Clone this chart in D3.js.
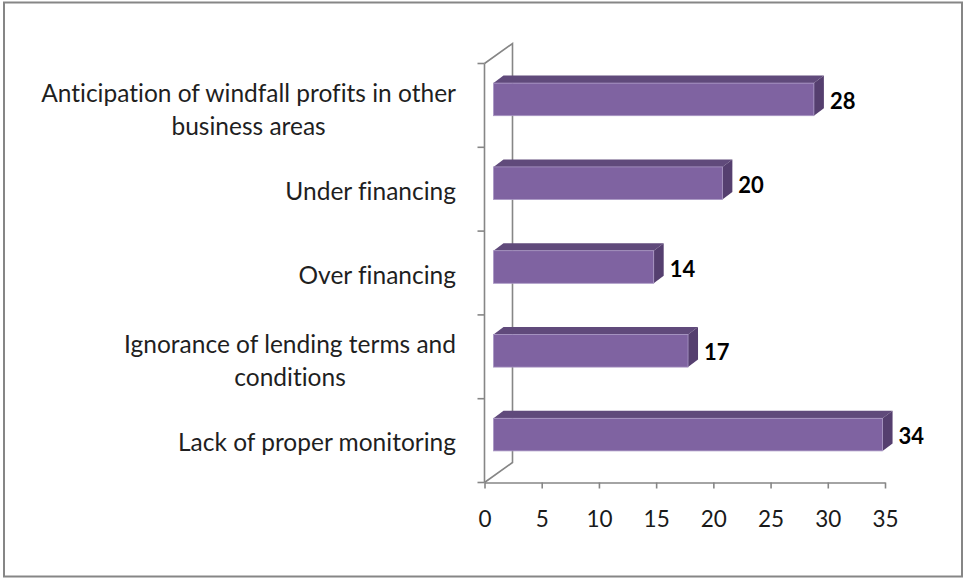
<!DOCTYPE html>
<html>
<head>
<meta charset="utf-8">
<script src="https://cdn.jsdelivr.net/npm/d3@7"></script>
<style>
  html, body { margin: 0; padding: 0; background: #ffffff; }
  svg { display: block; }
  text { font-variant-ligatures: none; font-feature-settings: "liga" 0; }
</style>
</head>
<body>
<svg id="chart" width="965" height="579"></svg>
<script>
// ---- data ----
const categories = [
  "Anticipation of windfall profits in other\nbusiness areas",
  "Under financing",
  "Over financing",
  "Ignorance of lending terms and\nconditions",
  "Lack of proper monitoring"
];
const values = [28, 20, 14, 17, 34];
const xTicks = [0, 5, 10, 15, 20, 25, 30, 35];

// ---- layout / style ----
const W = 965, H = 579;
const axisColor = "#868686";
const frontColor = "#7F63A1", topColor = "#604A7B", sideColor = "#553F6F", edgeColor = "#A996C4";
const depth = {dx: 28, dy: -20};          // full 3D depth of the plot
const barOff = {dx: 9, dy: -6};           // bar front offset from front plane
const barDepth = {dx: 10, dy: -7.5};      // bar thickness in depth
const barH = 32.6;

const svg = d3.select("#chart");

// outer border
svg.append("rect").attr("x", 4).attr("y", 2.5).attr("width", 958).attr("height", 574)
  .attr("fill", "#fff").attr("stroke", axisColor).attr("stroke-width", 2);

const x = d3.scaleLinear().domain([0, 35]).range([484.5, 885]);
const y = d3.scaleBand().domain(categories).range([63.5, 482.5]).paddingInner(0).paddingOuter(0);

const x0 = x(0), yTop = y.range()[0], yBot = y.range()[1];

// 3D walls (left wall outline)
const g = svg.append("g");
g.append("path")
  .attr("d", `M${x0},${yTop} L${x0 + depth.dx},${yTop + depth.dy} L${x0 + depth.dx},${yBot + depth.dy} L${x0},${yBot}`)
  .attr("fill", "none").attr("stroke", axisColor).attr("stroke-width", 1.6);

// front category axis line
g.append("line").attr("x1", x0).attr("x2", x0).attr("y1", yTop).attr("y2", yBot)
  .attr("stroke", axisColor).attr("stroke-width", 1.6);

// category ticks at band boundaries
const bounds = categories.map(c => y(c)).concat([yBot]);
g.selectAll("line.ctick").data(bounds).join("line")
  .attr("class", "ctick")
  .attr("x1", x0 - 7).attr("x2", x0).attr("y1", d => d).attr("y2", d => d)
  .attr("stroke", axisColor).attr("stroke-width", 1.6);

// x axis
const xAxis = d3.axisBottom(x).tickValues(xTicks).tickSize(6).tickSizeOuter(0).tickPadding(23)
  .tickFormat(d3.format("d"));
const xg = svg.append("g").attr("transform", `translate(0,${yBot})`).call(xAxis);
xg.select(".domain").attr("stroke", axisColor).attr("stroke-width", 1.6);
xg.selectAll(".tick line").attr("stroke", axisColor).attr("stroke-width", 1.6);
xg.selectAll(".tick text")
  .attr("font-family", "Lato, 'Open Sans', sans-serif")
  .attr("font-size", 22.5).attr("fill", "#1a1a1a");

// bars
const bars = svg.append("g");
categories.forEach((c, i) => {
  const v = values[i];
  const cy = y(c) + y.bandwidth() / 2 + barOff.dy;
  const fx0 = x(0) + barOff.dx, fx1 = x(v) + barOff.dx;
  const ft = cy - barH / 2, fb = cy + barH / 2;
  // top face
  bars.append("path")
    .attr("d", `M${fx0},${ft} L${fx0 + barDepth.dx},${ft + barDepth.dy} L${fx1 + barDepth.dx},${ft + barDepth.dy} L${fx1},${ft}Z`)
    .attr("fill", topColor);
  // side face
  bars.append("path")
    .attr("d", `M${fx1},${ft} L${fx1 + barDepth.dx},${ft + barDepth.dy} L${fx1 + barDepth.dx},${fb + barDepth.dy} L${fx1},${fb}Z`)
    .attr("fill", sideColor);
  // front face
  bars.append("rect")
    .attr("x", fx0).attr("y", ft).attr("width", fx1 - fx0).attr("height", barH)
    .attr("fill", frontColor).attr("stroke", edgeColor).attr("stroke-width", 0.8);
  // value label
  bars.append("text")
    .attr("x", fx1 + barDepth.dx + 6).attr("y", cy + 1)
    .attr("dominant-baseline", "central")
    .attr("font-family", "Lato, 'Open Sans', sans-serif")
    .attr("font-weight", "bold").attr("font-size", 22)
    .attr("fill", "#000").text(v);
});

// category labels
const labels = svg.append("g");
const rightEdge = 456;
const lineGap = 33;
categories.forEach(c => {
  const lines = c.split("\n");
  const cyB = y(c) + y.bandwidth() / 2;
  const t = labels.append("text")
    .attr("font-family", "Lato, 'Open Sans', sans-serif")
    .attr("font-size", 24.5).attr("fill", "#1f1f1f")
    .attr("text-anchor", "middle");
  const spans = lines.map((ln, k) => t.append("tspan").text(ln));
  let maxW = 0;
  spans.forEach(s => { maxW = Math.max(maxW, s.node().getComputedTextLength()); });
  const cx = rightEdge - maxW / 2;
  const firstBase = lines.length === 1 ? cyB + 10.5 : cyB - 3.5;
  spans.forEach((s, k) => s.attr("x", cx).attr("y", firstBase + k * lineGap));
});
</script>
</body>
</html>
